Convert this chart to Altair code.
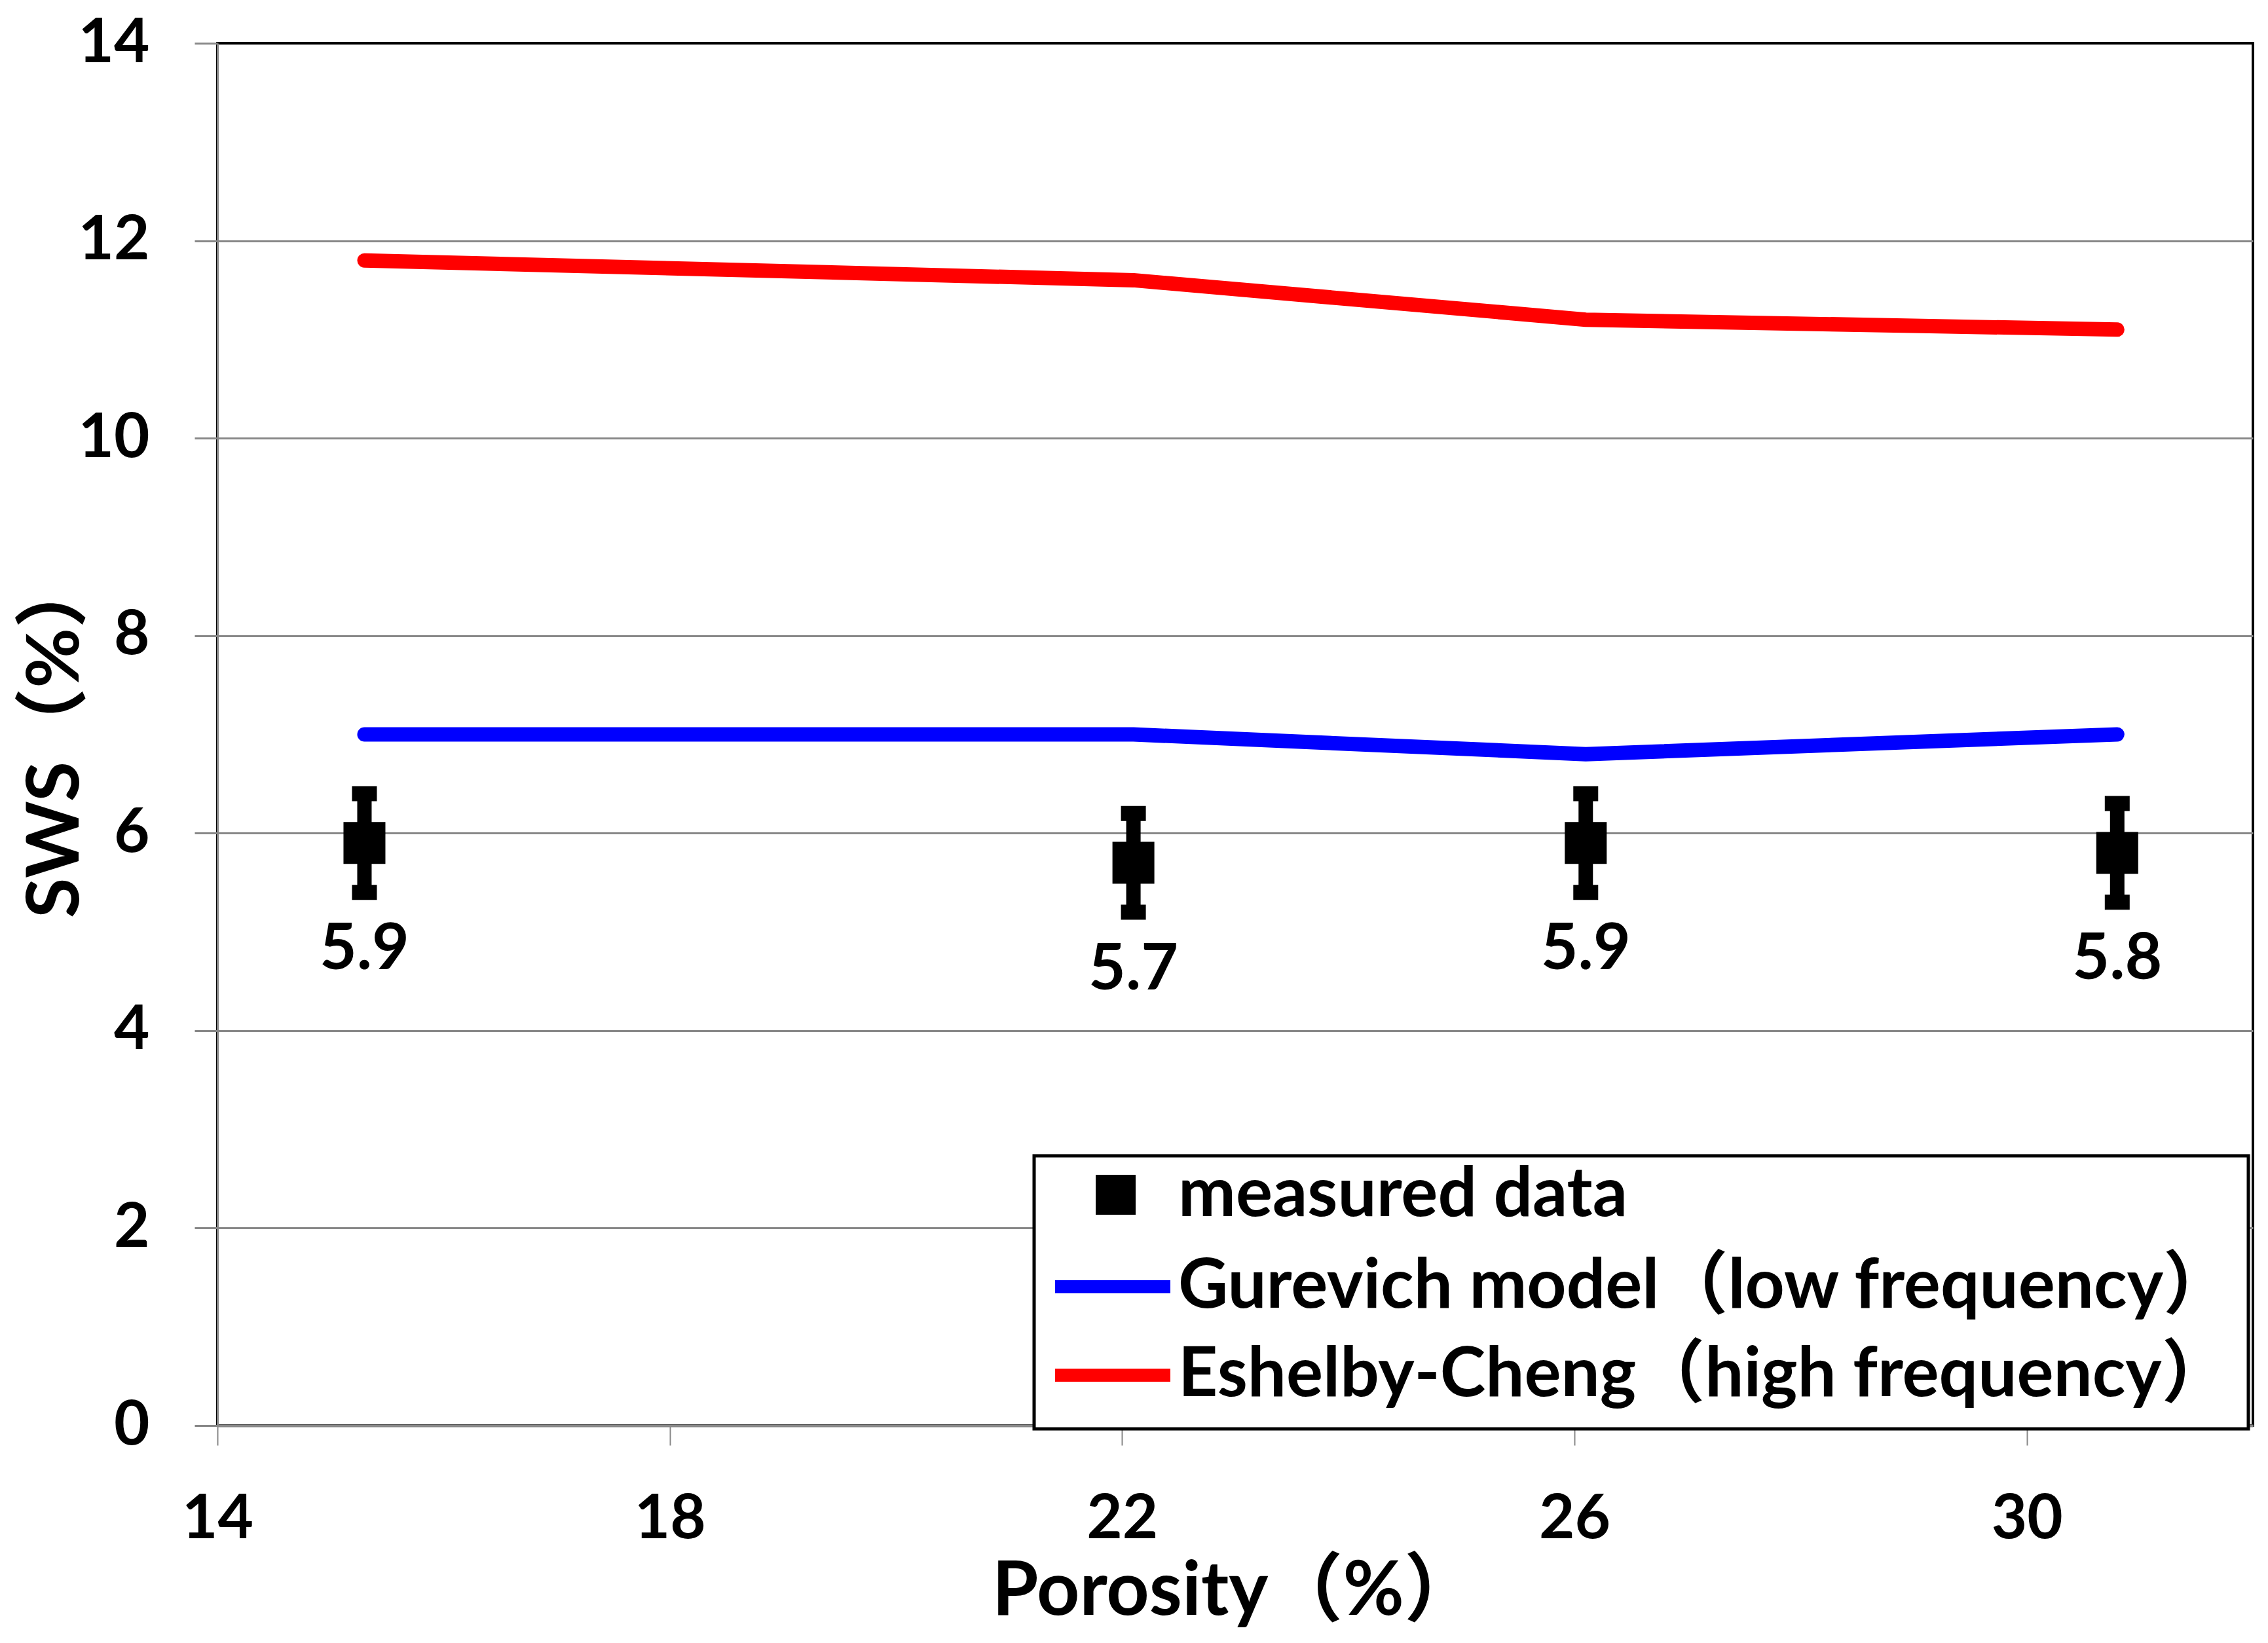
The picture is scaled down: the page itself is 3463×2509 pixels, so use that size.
import altair as alt
import pandas as pd

# ---- data ----
porosity = [15.3, 22.1, 26.1, 30.8]
sws_measured = [5.9, 5.7, 5.9, 5.8]
sws_error = [0.5, 0.5, 0.5, 0.5]
gurevich = [7.0, 7.0, 6.8, 7.0]
eshelby = [11.8, 11.6, 11.2, 11.1]
x_ticks = [14, 18, 22, 26, 30]
y_ticks = [0, 2, 4, 6, 8, 10, 12, 14]

S_MEAS = "measured data"
S_GUR = "Gurevich model（low frequency）"
S_ESH = "Eshelby-Cheng（high frequency）"
line_names = [S_GUR, S_ESH]
line_colors = ["#0000ff", "#ff0000"]

FONT = "Lato, Noto Sans CJK SC, sans-serif"
LEG_FS = 105

meas = pd.DataFrame({
    "porosity": porosity,
    "sws": sws_measured,
    "lo": [v - e for v, e in zip(sws_measured, sws_error)],
    "hi": [v + e for v, e in zip(sws_measured, sws_error)],
    "series": S_MEAS,
})
lines = pd.concat([
    pd.DataFrame({"porosity": porosity, "sws": gurevich, "series": S_GUR}),
    pd.DataFrame({"porosity": porosity, "sws": eshelby, "series": S_ESH}),
])

xscale = alt.Scale(domain=[14, 32], nice=False, zero=False)
yscale = alt.Scale(domain=[0, 14], nice=False)

# legend box (lines) – the blank title row leaves room for the "measured data" entry
line_legend = alt.Legend(
    title=" ",
    titleFontSize=80,
    titlePadding=38,
    orient="none",
    legendX=1247,
    legendY=1699,
    padding=22,
    clipHeight=120,
    rowPadding=15,
    labelFont=FONT,
    labelFontSize=LEG_FS,
    labelFontWeight="bold",
    labelColor="black",
    labelOffset=2,
    labelLimit=3000,
    symbolType="stroke",
    symbolSize=30976,
    symbolStrokeWidth=20,
    strokeColor="black",
    fillColor="white",
    zindex=0,
)
point_legend = alt.Legend(
    title=None,
    orient="none",
    legendX=1319,
    legendY=1706,
    padding=0,
    labelFont=FONT,
    labelFontSize=LEG_FS,
    labelFontWeight="bold",
    labelColor="black",
    labelOffset=43,
    labelLimit=3000,
    symbolType="square",
    symbolSize=3721,
    symbolFillColor="black",
    symbolStrokeWidth=0,
    symbolOpacity=1,
    zindex=1,
)

color = alt.Color(
    "series:N",
    scale=alt.Scale(domain=line_names, range=line_colors),
    legend=line_legend,
)
shape = alt.Shape(
    "series:N",
    scale=alt.Scale(domain=[S_MEAS], range=["square"]),
    legend=point_legend,
)

xaxis = alt.Axis(
    values=x_ticks,
    format="d",
    grid=False,
    labelFlush=False,
    domainColor="#888888",
    domainWidth=4,
    tickColor="#888888",
    tickSize=30,
    tickWidth=2,
    labelFont=FONT,
    labelFontSize=94,
    labelFontWeight="bold",
    labelColor="black",
    labelPadding=67,
    labelLimit=1000,
    title="Porosity（%）",
    titleFont=FONT,
    titleFontSize=114,
    titleFontWeight="bold",
    titleColor="black",
    titleY=288,
    titleBaseline="alphabetic",
)
yaxis = alt.Axis(
    values=y_ticks,
    format="d",
    grid=True,
    labelFlush=False,
    gridColor=alt.condition("datum.value == 14", alt.value("black"), alt.value("#888888")),
    gridWidth=3,
    domainColor="#888888",
    domainWidth=3,
    tickColor="#888888",
    tickSize=35,
    tickWidth=3,
    labelFont=FONT,
    labelFontSize=94,
    labelFontWeight="bold",
    labelColor="black",
    labelPadding=69,
    labelLimit=1000,
    title="SWS（%）",
    titleFont=FONT,
    titleFontSize=112,
    titleFontWeight="bold",
    titleColor="black",
    titleX=-247,
    titleY=1058,
    titleBaseline="middle",
)

X = alt.X("porosity:Q", scale=xscale, axis=xaxis)
Y = alt.Y("sws:Q", scale=yscale, axis=yaxis)

line_layer = alt.Chart(lines).mark_line(
    strokeWidth=22, strokeCap="round", strokeJoin="round"
).encode(x=X, y=Y, color=color)

err_rule = alt.Chart(meas).mark_rule(strokeWidth=22, color="black").encode(
    x=alt.X("porosity:Q", scale=xscale),
    y=alt.Y("lo:Q", scale=yscale),
    y2="hi:Q",
)
cap_lo = alt.Chart(meas).mark_tick(orient="horizontal", size=38, thickness=23, color="black", opacity=1).encode(
    x=alt.X("porosity:Q", scale=xscale),
    y=alt.Y("lo:Q", scale=yscale),
)
cap_hi = alt.Chart(meas).mark_tick(orient="horizontal", size=38, thickness=23, color="black", opacity=1).encode(
    x=alt.X("porosity:Q", scale=xscale),
    y=alt.Y("hi:Q", scale=yscale),
)
points = alt.Chart(meas).mark_point(
    size=4096, filled=True, opacity=1, strokeWidth=0, color="black"
).encode(x=X, y=Y, shape=shape)

labels = alt.Chart(meas).mark_text(
    dy=164, font=FONT, fontSize=98, fontWeight="bold", color="black", baseline="middle", align="center"
).encode(
    x=alt.X("porosity:Q", scale=xscale),
    y=alt.Y("sws:Q", scale=yscale),
    text=alt.Text("sws:Q", format=".1f"),
)

chart = alt.layer(line_layer, err_rule, cap_lo, cap_hi, points, labels).properties(
    width=3108,
    height=2111,
    autosize=alt.AutoSizeParams(type="none"),
    padding={"left": 324, "top": 58, "right": 15, "bottom": 320},
    background="white",
).configure_view(
    stroke="black", strokeWidth=4
).configure_legend(
    strokeWidth=5
)

chart.save("out.html", embed_options={"renderer": "svg", "actions": False})
